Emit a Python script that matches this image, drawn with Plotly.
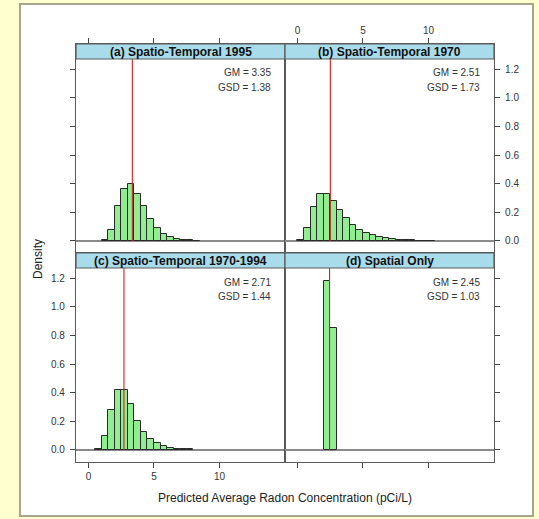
import numpy as np
import plotly.graph_objects as go

W, H = 539, 519

titles = ["(a) Spatio-Temporal 1995", "(b) Spatio-Temporal 1970",
          "(c) Spatio-Temporal 1970-1994", "(d) Spatial Only"]
gm = [3.35, 2.51, 2.71, 2.45]
gsd = [1.38, 1.73, 1.44, 1.03]
bin_width = 0.5
bin_start = [1.0, 0.0, 0.5, 2.0]
dens_a = [0.01, 0.08, 0.245, 0.36, 0.395, 0.325, 0.245, 0.155, 0.093, 0.051,
          0.028, 0.016, 0.01, 0.005, 0.003]
dens_b = [0.01, 0.089, 0.236, 0.325, 0.327, 0.28, 0.215, 0.157, 0.11, 0.079,
          0.058, 0.04, 0.028, 0.019, 0.014, 0.01, 0.008, 0.005, 0.003, 0.002, 0.001]
dens_c = [0.007, 0.097, 0.28, 0.42, 0.42, 0.32, 0.2, 0.128, 0.074, 0.046,
          0.026, 0.014, 0.009, 0.005, 0.004]
dens_d = [1.18, 0.85]
densities = [dens_a, dens_b, dens_c, dens_d]

x_ticks = [0, 5, 10]
y_ticks = [0.0, 0.2, 0.4, 0.6, 0.8, 1.0, 1.2]
y_tick_text = ["0.0", "0.2", "0.4", "0.6", "0.8", "1.0", "1.2"]

FONT = "Arial, Liberation Sans, sans-serif"
BAR_COLOR = "#92EC92"
STRIP_COLOR = "#A9DCEB"
LINE_COLOR = "#5a5a5a"

# geometry (pixels)
x_left = [76, 285]
x_right = [285, 494]
row_top = [44, 253]
row_bot = [253, 462]
strip_h = 15
panel_h = 209

x_range = [-0.95, 15.0]
y_min = -0.084
px_per_unit = 143.2
y_max = y_min + panel_h / px_per_unit
y_plot_top = y_min + (panel_h - strip_h) / px_per_unit

fig = go.Figure()

for i in range(4):
    col = i % 2
    row = i // 2
    sfx = "" if i == 0 else str(i + 1)
    xa, ya = "x" + sfx, "y" + sfx
    starts = bin_start[i] + bin_width * np.arange(len(densities[i]))
    centers = starts + bin_width / 2
    fig.add_trace(go.Bar(x=centers, y=densities[i], width=bin_width,
                         marker=dict(color=BAR_COLOR, line=dict(color="#2a2a2a", width=1)),
                         xaxis=xa, yaxis=ya, showlegend=False, hoverinfo="skip"))
    fig.add_trace(go.Scatter(x=[gm[i], gm[i]], y=[0, y_plot_top], mode="lines",
                             line=dict(color="#CC2222", width=1.1),
                             xaxis=xa, yaxis=ya, showlegend=False, hoverinfo="skip"))

    xdom = [x_left[col] / W, x_right[col] / W]
    ydom = [1 - row_bot[row] / H, 1 - row_top[row] / H]

    xside = "top" if row == 0 else "bottom"
    xlabels = (i == 1) or (i == 2)
    yside = "left" if col == 0 else "right"
    ylabels = (i == 1) or (i == 2)

    fig.layout["xaxis" + sfx] = dict(
        domain=xdom, range=x_range, anchor=ya, side=xside,
        tickvals=x_ticks, ticks="outside", ticklen=5, tickwidth=1, tickcolor="#444",
        showticklabels=xlabels, tickfont=dict(size=10, color="#333", family=FONT),
        showgrid=False, zeroline=False, showline=True, mirror=True,
        linecolor=LINE_COLOR, linewidth=1.2, fixedrange=True)
    fig.layout["yaxis" + sfx] = dict(
        domain=ydom, range=[y_min, y_max], anchor=xa, side=yside,
        tickvals=y_ticks, ticktext=y_tick_text, ticks="outside", ticklen=5, tickwidth=1,
        tickcolor="#444", showticklabels=ylabels, ticklabelstandoff=3,
        tickfont=dict(size=10, color="#333", family=FONT),
        showgrid=False, zeroline=True, zerolinecolor="#8a8a8a", zerolinewidth=1.5,
        showline=True, mirror=True, linecolor=LINE_COLOR, linewidth=1.2, fixedrange=True)

    strip_y0 = (panel_h - strip_h) / panel_h
    fig.add_shape(type="rect", xref=xa + " domain", yref=ya + " domain",
                  x0=0, x1=1, y0=strip_y0, y1=1, fillcolor=STRIP_COLOR,
                  line=dict(color=LINE_COLOR, width=1.2), layer="above")
    fig.add_annotation(xref=xa + " domain", yref=ya + " domain", x=0.5,
                       y=(strip_y0 + 1) / 2, text="<b>" + titles[i] + "</b>",
                       showarrow=False, font=dict(size=12, color="#111", family=FONT),
                       xanchor="center", yanchor="middle")
    tx = 1 - 12 / 209
    fig.add_annotation(xref=xa + " domain", yref=ya + " domain", x=tx,
                       y=(panel_h - strip_h - 14) / panel_h,
                       text="GM = %.2f" % gm[i], showarrow=False,
                       font=dict(size=10, color="#333", family=FONT),
                       xanchor="right", yanchor="middle")
    fig.add_annotation(xref=xa + " domain", yref=ya + " domain", x=tx,
                       y=(panel_h - strip_h - 28) / panel_h,
                       text="GSD = %.2f" % gsd[i], showarrow=False,
                       font=dict(size=10, color="#333", family=FONT),
                       xanchor="right", yanchor="middle")

# outer white frame
fig.add_shape(type="rect", xref="paper", yref="paper",
              x0=20 / W, x1=533 / W, y0=1 - 516 / H, y1=1 - 4 / H,
              fillcolor="white", line=dict(color="#A7A58E", width=2), layer="below")

fig.add_annotation(xref="paper", yref="paper", x=285 / W, y=1 - 497.5 / H,
                   text="Predicted Average Radon Concentration (pCi/L)", showarrow=False,
                   font=dict(size=12, color="#222", family=FONT),
                   xanchor="center", yanchor="middle")
fig.add_annotation(xref="paper", yref="paper", x=38 / W, y=1 - 259 / H,
                   text="Density", textangle=-90, showarrow=False,
                   font=dict(size=12, color="#222", family=FONT),
                   xanchor="center", yanchor="middle")

fig.update_layout(width=W, height=H, margin=dict(l=0, r=0, t=0, b=0),
                  paper_bgcolor="#FFFFCF", plot_bgcolor="white",
                  bargap=0, showlegend=False, font=dict(family=FONT))

fig.write_html("out.html", config={"displayModeBar": False})
